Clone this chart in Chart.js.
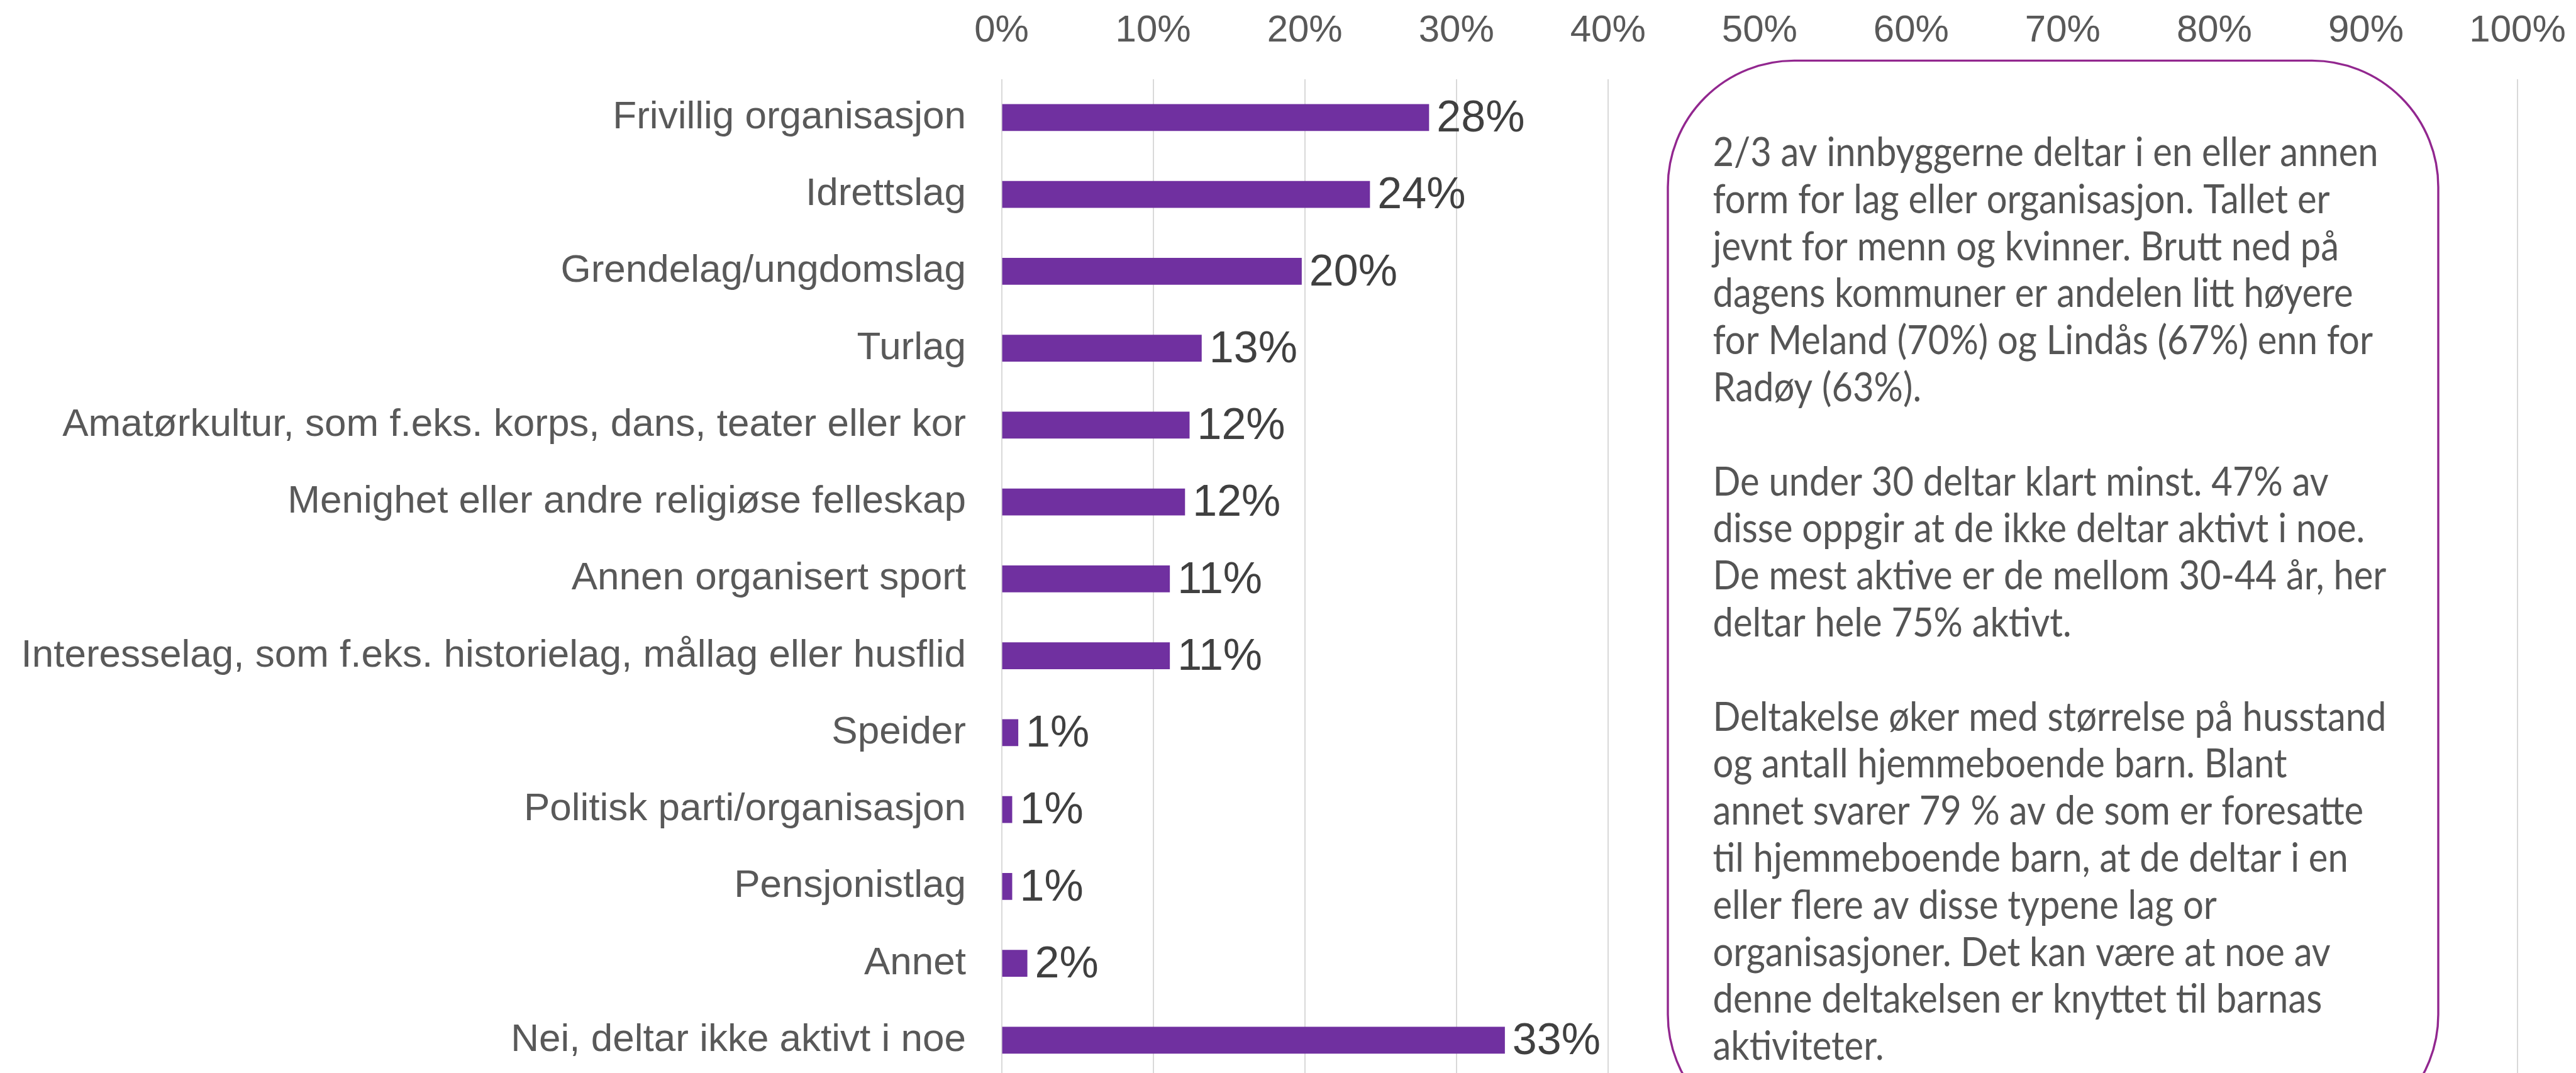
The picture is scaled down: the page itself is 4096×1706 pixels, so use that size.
<!DOCTYPE html>
<html>
<head>
<meta charset="utf-8">
<script src="https://cdn.jsdelivr.net/npm/chart.js@4.4.1/dist/chart.umd.min.js"></script>
<style>
  html, body { margin: 0; padding: 0; background: #ffffff; overflow: hidden; width: 4096px; height: 1706px; }
  #wrap { position: absolute; left: 0; top: 0; width: 4096px; height: 1715px; }
</style>
</head>
<body>
<div id="wrap"><canvas id="c" width="4096" height="1715"></canvas></div>
<script>
// ---- data ----
const categories = [
  'Frivillig organisasjon',
  'Idrettslag',
  'Grendelag/ungdomslag',
  'Turlag',
  'Amatørkultur, som f.eks. korps, dans, teater eller kor',
  'Menighet eller andre religiøse felleskap',
  'Annen organisert sport',
  'Interesselag, som f.eks. historielag, mållag eller husflid',
  'Speider',
  'Politisk parti/organisasjon',
  'Pensjonistlag',
  'Annet',
  'Nei, deltar ikke aktivt i noe'
];
const values = [28.2, 24.3, 19.8, 13.2, 12.4, 12.1, 11.1, 11.1, 1.1, 0.7, 0.7, 1.7, 33.2];
const valueLabels = ['28%', '24%', '20%', '13%', '12%', '12%', '11%', '11%', '1%', '1%', '1%', '2%', '33%'];
const tickValues = [0, 10, 20, 30, 40, 50, 60, 70, 80, 90, 100];
const noteLines = [
  '2/3 av innbyggerne deltar i en eller annen',
  'form for lag eller organisasjon. Tallet er',
  'jevnt for menn og kvinner. Brutt ned på',
  'dagens kommuner er andelen litt høyere',
  'for Meland (70%) og Lindås (67%) enn for',
  'Radøy (63%).',
  '',
  'De under 30 deltar klart minst. 47% av',
  'disse oppgir at de ikke deltar aktivt i noe.',
  'De mest aktive er de mellom 30-44 år, her',
  'deltar hele 75% aktivt.',
  '',
  'Deltakelse øker med størrelse på husstand',
  'og antall hjemmeboende barn. Blant',
  'annet svarer 79 % av de som er foresatte',
  'til hjemmeboende barn, at de deltar i en',
  'eller flere av disse typene lag or',
  'organisasjoner. Det kan være at noe av',
  'denne deltakelsen er knyttet til barnas',
  'aktiviteter.'
];

// ---- layout / style ----
const ARIAL = '"Liberation Sans", Arial, sans-serif';
const layout = {
  plotLeft: 1592.6,
  plotRight: 4003,
  plotTop: 125.7,
  box: { left: 2652, right: 3877, top: 96.4, bottom: 1814, radius: 201, lineWidth: 3.4 },
  text: { left: 2723.5, firstBaseline: 264, lineGap: 74.8, targetWidth: 1058, size: 63 }
};

const valueLabelPlugin = {
  id: 'valueLabels',
  afterDatasetsDraw(chart) {
    const ctx = chart.ctx;
    const meta = chart.getDatasetMeta(0);
    ctx.save();
    ctx.font = '70px ' + ARIAL;
    ctx.fillStyle = '#404040';
    ctx.textAlign = 'left';
    ctx.textBaseline = 'middle';
    meta.data.forEach((bar, i) => {
      ctx.fillText(valueLabels[i], bar.x + 12, bar.y + 3);
    });
    ctx.restore();
  }
};

const noteBoxPlugin = {
  id: 'noteBox',
  afterDraw(chart) {
    const ctx = chart.ctx;
    const b = layout.box;
    ctx.save();
    ctx.beginPath();
    ctx.roundRect(b.left, b.top, b.right - b.left, b.bottom - b.top, b.radius);
    ctx.fillStyle = '#ffffff';
    ctx.fill();
    ctx.lineWidth = b.lineWidth;
    ctx.strokeStyle = '#92278f';
    ctx.stroke();

    const t = layout.text;
    ctx.font = t.size + 'px Lato, "Open Sans", sans-serif';
    ctx.fillStyle = '#555555';
    ctx.textAlign = 'left';
    ctx.textBaseline = 'alphabetic';
    const w = ctx.measureText(noteLines[0]).width;
    const sx = t.targetWidth / w;
    noteLines.forEach((line, i) => {
      if (!line) return;
      ctx.save();
      ctx.translate(t.left, t.firstBaseline + i * t.lineGap);
      ctx.scale(sx, 1);
      ctx.fillText(line, 0, 0);
      ctx.restore();
    });
    ctx.restore();
  }
};

const ctx = document.getElementById('c').getContext('2d');
new Chart(ctx, {
  type: 'bar',
  data: {
    labels: categories,
    datasets: [{
      data: values,
      backgroundColor: '#7030a0',
      borderWidth: 0,
      barPercentage: 0.35,
      categoryPercentage: 1.0
    }]
  },
  options: {
    indexAxis: 'y',
    responsive: false,
    animation: false,
    devicePixelRatio: 1,
    layout: { autoPadding: false, padding: { left: 0, right: 4096 - layout.plotRight, top: 0, bottom: 0 } },
    plugins: {
      legend: { display: false },
      tooltip: { enabled: false },
      title: { display: false }
    },
    scales: {
      x: {
        position: 'top',
        min: 0,
        max: 100,
        afterBuildTicks(scale) { scale.ticks = tickValues.map(v => ({ value: v })); },
        afterFit(scale) {
          scale.height = layout.plotTop;
          scale.paddingLeft = 0; scale.paddingRight = 0;
          scale.paddingTop = 0; scale.paddingBottom = 0;
        },
        ticks: {
          callback: v => v + '%',
          font: { family: ARIAL, size: 60 },
          color: '#595959',
          padding: 40.5,
          maxRotation: 0,
          autoSkip: false
        },
        grid: { color: '#d9d9d9', lineWidth: 2, drawTicks: false },
        border: { display: false }
      },
      y: {
        afterFit(scale) {
          scale.width = layout.plotLeft;
          scale.paddingLeft = 0; scale.paddingRight = 0;
          scale.paddingTop = 0; scale.paddingBottom = 0;
        },
        ticks: {
          font: { family: ARIAL, size: 62 },
          color: '#595959',
          padding: 56.6,
          autoSkip: false
        },
        grid: { display: false, drawTicks: false },
        border: { display: false }
      }
    }
  },
  plugins: [valueLabelPlugin, noteBoxPlugin]
});
</script>
</body>
</html>
